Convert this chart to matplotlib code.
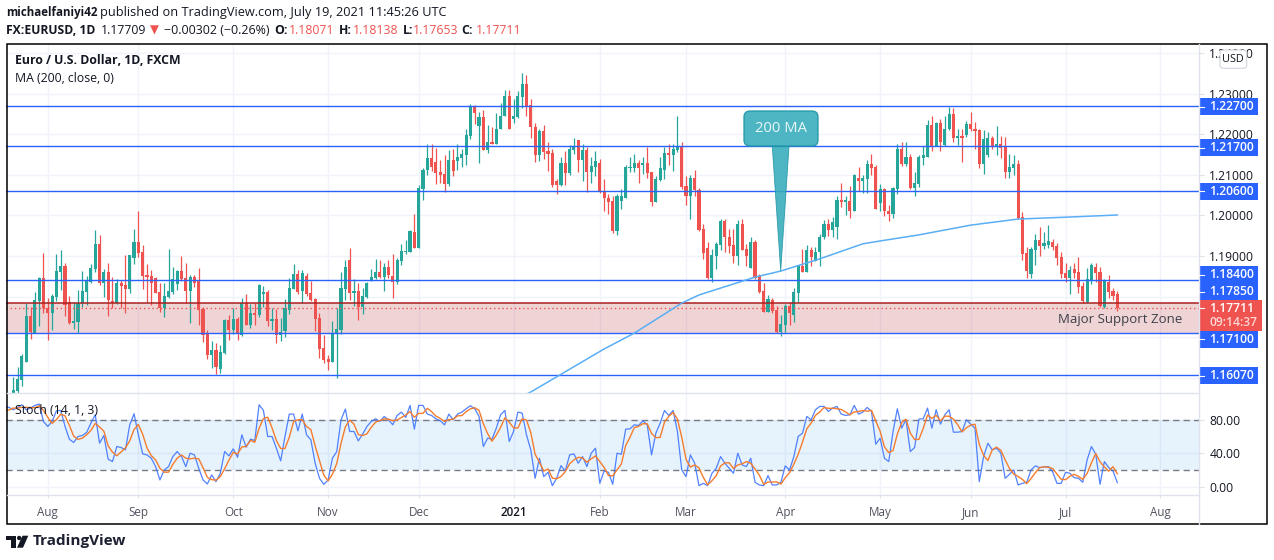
import matplotlib
matplotlib.use('Agg')
import matplotlib.pyplot as plt
import numpy as np
from matplotlib.patches import Rectangle, Polygon, FancyBboxPatch, Circle

plt.rcParams['font.family'] = ['Open Sans', 'DejaVu Sans']

# daily candles
opens = [1.1563,1.1567,1.1595,1.1639,1.1752,1.1711,1.1789,1.1846,1.1772,1.1760,
 1.1799,1.1861,1.1875,1.1787,1.1735,1.1737,1.1783,1.1811,1.1836,1.1868,
 1.1930,1.1834,1.1861,1.1789,1.1783,1.1834,1.1829,1.1819,1.1895,1.1934,
 1.1910,1.1853,1.1851,1.1846,1.1811,1.1772,1.1799,1.1811,1.1831,1.1863,
 1.1846,1.1814,1.1848,1.1841,1.1769,1.1710,1.1656,1.1668,1.1622,1.1660,
 1.1742,1.1718,1.1745,1.1705,1.1783,1.1730,1.1760,1.1755,1.1806,1.1811,
 1.1740,1.1745,1.1705,1.1715,1.1767,1.1819,1.1856,1.1814,1.1851,1.1809,
 1.1794,1.1747,1.1673,1.1646,1.1639,1.1711,1.1718,1.1819,1.1890,1.1809,
 1.1814,1.1774,1.1799,1.1838,1.1846,1.1861,1.1848,1.1873,1.1851,1.1836,
 1.1888,1.1910,1.1910,1.1959,1.1920,1.2065,1.2111,1.2141,1.2131,1.2106,
 1.2101,1.2077,1.2136,1.2133,1.2141,1.2148,1.2195,1.2266,1.2219,1.2242,
 1.2160,1.2182,1.2177,1.2212,1.2244,1.2293,1.2237,1.2242,1.2291,1.2323,
 1.2271,1.2217,1.2148,1.2207,1.2158,1.2153,1.2084,1.2074,1.2128,1.2104,
 1.2160,1.2185,1.2136,1.2160,1.2106,1.2118,1.2128,1.2059,1.2044,1.2035,
 1.1961,1.2035,1.2044,1.2116,1.2116,1.2128,1.2123,1.2128,1.2106,1.2032,
 1.2086,1.2111,1.2153,1.2148,1.2160,1.2168,1.2072,1.2047,1.2091,1.2062,
 1.1966,1.1919,1.1845,1.1899,1.1926,1.1985,1.1946,1.1926,1.1899,1.1978,
 1.1916,1.1870,1.1934,1.1850,1.1813,1.1761,1.1791,1.1766,1.1712,1.1729,
 1.1776,1.1754,1.1808,1.1875,1.1860,1.1914,1.1887,1.1909,1.1946,1.1978,
 1.1963,1.1971,1.2037,1.2032,1.2035,1.2012,1.2091,1.2084,1.2089,1.2126,
 1.2118,1.2030,1.2064,1.2012,1.2003,1.2064,1.2163,1.2126,1.2145,1.2067,
 1.2077,1.2141,1.2145,1.2222,1.2170,1.2227,1.2173,1.2212,1.2249,1.2190,
 1.2195,1.2197,1.2224,1.2214,1.2210,1.2126,1.2148,1.2190,1.2170,1.2177,
 1.2168,1.2106,1.2116,1.2126,1.1995,1.1907,1.1855,1.1914,1.1939,1.1924,
 1.1926,1.1934,1.1924,1.1897,1.1857,1.1847,1.1867,1.1860,1.1825,1.1786,
 1.1840,1.1872,1.1860,1.1774,1.1835,1.1813,1.1807]
highs = [1.1603,1.1627,1.1659,1.1783,1.1775,1.1812,1.1849,1.1907,1.1797,1.1806,
 1.1905,1.1915,1.1883,1.1801,1.1787,1.1816,1.1863,1.1851,1.1880,1.1964,
 1.1952,1.1868,1.1883,1.1848,1.1843,1.1841,1.1902,1.1903,1.1966,1.2011,
 1.1927,1.1880,1.1866,1.1848,1.1834,1.1834,1.1917,1.1873,1.1866,1.1900,
 1.1883,1.1853,1.1853,1.1870,1.1774,1.1718,1.1691,1.1686,1.1681,1.1745,
 1.1755,1.1772,1.1750,1.1797,1.1806,1.1782,1.1784,1.1831,1.1826,1.1816,
 1.1772,1.1769,1.1747,1.1794,1.1846,1.1880,1.1866,1.1866,1.1858,1.1838,
 1.1797,1.1760,1.1705,1.1656,1.1740,1.1772,1.1861,1.1890,1.1920,1.1843,
 1.1834,1.1821,1.1836,1.1868,1.1893,1.1890,1.1883,1.1890,1.1905,1.1895,
 1.1930,1.1939,1.1964,1.2003,1.2075,1.2117,1.2176,1.2177,1.2167,1.2136,
 1.2148,1.2160,1.2163,1.2177,1.2163,1.2212,1.2274,1.2271,1.2254,1.2259,
 1.2222,1.2217,1.2251,1.2276,1.2310,1.2310,1.2286,1.2306,1.2350,1.2345,
 1.2286,1.2227,1.2212,1.2222,1.2180,1.2163,1.2089,1.2145,1.2158,1.2173,
 1.2190,1.2185,1.2175,1.2168,1.2143,1.2158,1.2138,1.2089,1.2052,1.2047,
 1.2052,1.2064,1.2123,1.2145,1.2150,1.2136,1.2145,1.2169,1.2106,1.2096,
 1.2145,1.2168,1.2177,1.2175,1.2244,1.2182,1.2096,1.2099,1.2113,1.2067,
 1.1978,1.1934,1.1916,1.1934,1.1990,1.1990,1.1966,1.1966,1.1988,1.1990,
 1.1929,1.1948,1.1939,1.1855,1.1833,1.1803,1.1796,1.1776,1.1754,1.1781,
 1.1786,1.1820,1.1879,1.1916,1.1926,1.1921,1.1921,1.1953,1.1988,1.1990,
 1.1995,1.2049,1.2081,1.2047,1.2072,1.2101,1.2118,1.2099,1.2136,1.2150,
 1.2123,1.2077,1.2067,1.2025,1.2069,1.2177,1.2180,1.2182,1.2150,1.2106,
 1.2148,1.2170,1.2234,1.2246,1.2229,1.2237,1.2244,1.2266,1.2264,1.2214,
 1.2212,1.2232,1.2254,1.2229,1.2214,1.2210,1.2205,1.2195,1.2219,1.2195,
 1.2192,1.2150,1.2148,1.2136,1.2008,1.1921,1.1921,1.1953,1.1971,1.1958,
 1.1976,1.1941,1.1931,1.1909,1.1882,1.1875,1.1882,1.1897,1.1835,1.1870,
 1.1882,1.1882,1.1872,1.1843,1.1852,1.1820,1.1814]
lows = [1.1563,1.1563,1.1580,1.1639,1.1696,1.1710,1.1728,1.1760,1.1693,1.1718,
 1.1789,1.1816,1.1752,1.1733,1.1720,1.1710,1.1774,1.1779,1.1833,1.1861,
 1.1829,1.1799,1.1752,1.1772,1.1782,1.1772,1.1760,1.1809,1.1880,1.1898,
 1.1819,1.1787,1.1779,1.1809,1.1762,1.1750,1.1797,1.1806,1.1816,1.1838,
 1.1784,1.1735,1.1824,1.1730,1.1688,1.1646,1.1624,1.1609,1.1612,1.1659,
 1.1693,1.1708,1.1693,1.1703,1.1730,1.1723,1.1730,1.1750,1.1774,1.1728,
 1.1718,1.1686,1.1691,1.1701,1.1757,1.1819,1.1806,1.1784,1.1801,1.1789,
 1.1715,1.1649,1.1636,1.1619,1.1639,1.1600,1.1708,1.1792,1.1792,1.1777,
 1.1742,1.1757,1.1797,1.1838,1.1843,1.1846,1.1814,1.1846,1.1797,1.1831,
 1.1878,1.1905,1.1910,1.1920,1.1920,1.2038,1.2099,1.2109,1.2077,1.2079,
 1.2057,1.2072,1.2097,1.2113,1.2118,1.2123,1.2187,1.2224,1.2128,1.2160,
 1.2153,1.2175,1.2177,1.2212,1.2244,1.2212,1.2227,1.2239,1.2264,1.2244,
 1.2190,1.2131,1.2133,1.2138,1.2109,1.2069,1.2052,1.2072,1.2074,1.2099,
 1.2150,1.2106,1.2084,1.2057,1.2079,1.2096,1.2054,1.2010,1.2003,1.1956,
 1.1951,1.2015,1.2042,1.2106,1.2106,1.2079,1.2101,1.2091,1.2022,1.2032,
 1.2084,1.2089,1.2123,1.2109,1.2155,1.2064,1.2025,1.1990,1.2048,1.1961,
 1.1892,1.1843,1.1835,1.1867,1.1914,1.1909,1.1907,1.1882,1.1877,1.1914,
 1.1875,1.1870,1.1843,1.1808,1.1761,1.1761,1.1759,1.1710,1.1702,1.1710,
 1.1729,1.1737,1.1786,1.1860,1.1860,1.1875,1.1887,1.1875,1.1941,1.1949,
 1.1948,1.1941,1.2020,1.2000,1.1993,1.2012,1.2059,1.2054,1.2054,1.2099,
 1.2015,1.2012,1.1998,1.1985,1.1993,1.2052,1.2121,1.2121,1.2064,1.2049,
 1.2069,1.2123,1.2145,1.2158,1.2170,1.2158,1.2170,1.2210,1.2180,1.2173,
 1.2131,1.2192,1.2207,1.2163,1.2116,1.2101,1.2143,1.2163,1.2148,1.2141,
 1.2091,1.2091,1.2099,1.1990,1.1889,1.1845,1.1847,1.1879,1.1899,1.1916,
 1.1919,1.1914,1.1879,1.1845,1.1835,1.1806,1.1847,1.1808,1.1783,1.1783,
 1.1830,1.1835,1.1774,1.1771,1.1796,1.1791,1.1765]
closes = [1.1570,1.1597,1.1654,1.1752,1.1713,1.1792,1.1846,1.1772,1.1760,1.1801,
 1.1863,1.1875,1.1779,1.1735,1.1740,1.1783,1.1814,1.1841,1.1870,1.1930,
 1.1834,1.1861,1.1792,1.1783,1.1834,1.1826,1.1819,1.1902,1.1934,1.1907,
 1.1851,1.1848,1.1834,1.1809,1.1772,1.1801,1.1814,1.1843,1.1863,1.1843,
 1.1814,1.1848,1.1834,1.1767,1.1705,1.1656,1.1668,1.1627,1.1664,1.1742,
 1.1718,1.1745,1.1708,1.1783,1.1730,1.1760,1.1755,1.1829,1.1811,1.1740,
 1.1745,1.1705,1.1713,1.1772,1.1821,1.1856,1.1811,1.1858,1.1806,1.1792,
 1.1745,1.1671,1.1644,1.1639,1.1711,1.1720,1.1821,1.1873,1.1809,1.1814,
 1.1774,1.1801,1.1834,1.1848,1.1861,1.1848,1.1873,1.1853,1.1836,1.1890,
 1.1912,1.1912,1.1962,1.1920,1.2067,1.2112,1.2141,1.2118,1.2104,1.2099,
 1.2077,1.2136,1.2109,1.2143,1.2150,1.2197,1.2266,1.2251,1.2242,1.2160,
 1.2182,1.2177,1.2214,1.2246,1.2293,1.2214,1.2244,1.2293,1.2323,1.2269,
 1.2217,1.2148,1.2207,1.2155,1.2150,1.2074,1.2074,1.2128,1.2104,1.2163,
 1.2168,1.2136,1.2160,1.2106,1.2121,1.2133,1.2057,1.2042,1.2032,1.1961,
 1.2049,1.2047,1.2118,1.2118,1.2128,1.2116,1.2128,1.2104,1.2032,1.2089,
 1.2116,1.2153,1.2148,1.2163,1.2168,1.2069,1.2047,1.2091,1.2062,1.1963,
 1.1907,1.1845,1.1902,1.1929,1.1985,1.1948,1.1924,1.1899,1.1978,1.1914,
 1.1899,1.1934,1.1847,1.1811,1.1761,1.1793,1.1764,1.1712,1.1732,1.1776,
 1.1759,1.1811,1.1877,1.1860,1.1914,1.1897,1.1911,1.1948,1.1978,1.1963,
 1.1983,1.2037,1.2032,1.2037,1.2012,1.2099,1.2084,1.2091,1.2126,1.2116,
 1.2015,1.2064,1.2010,1.2003,1.2067,1.2163,1.2126,1.2145,1.2067,1.2079,
 1.2145,1.2148,1.2222,1.2170,1.2227,1.2180,1.2214,1.2249,1.2190,1.2195,
 1.2190,1.2224,1.2212,1.2207,1.2126,1.2187,1.2190,1.2168,1.2177,1.2165,
 1.2106,1.2118,1.2126,1.1993,1.1904,1.1862,1.1916,1.1939,1.1924,1.1931,
 1.1936,1.1921,1.1894,1.1855,1.1847,1.1865,1.1857,1.1823,1.1788,1.1843,
 1.1877,1.1857,1.1776,1.1838,1.1811,1.1801,1.1771]

# 200 MA, only a few points
ma_bars = [118,120,137,144,155,159,172,178,187,197,201,210,222,233,245,256]
ma_vals = [1.1555,1.1565,1.1671,1.1710,1.1784,1.1804,1.1848,1.1863,1.1893,1.1930,1.1937,1.1952,1.1976,1.1991,1.1996,1.2001]

# Stoch starts two bars before the first visible candle
stoch_k = [95.9,95.1,92.3,95.1,98.3,92.3,94.3,97.5,99.1,78.3,72.3,78.3,91.1,91.5,72.3,57.1,53.1,60.3,61.5,65.1,
 76.3,86.3,52.3,61.5,33.1,30.3,48.3,47.1,44.3,74.3,87.5,62.3,39.5,38.3,34.3,24.3,8.3,20.3,24.3,36.3,
 42.3,36.3,24.3,40.3,38.3,22.3,8.3,3.5,14.3,6.3,16.3,42.3,37.1,45.5,35.5,62.3,47.5,57.1,55.5,98.3,
 91.5,60.3,60.3,46.3,31.1,60.3,87.1,87.1,67.1,87.1,62.3,56.3,28.3,10.3,3.1,8.3,34.3,42.3,80.3,93.1,
 66.3,66.3,55.1,63.1,72.3,78.3,81.5,78.3,84.3,80.3,74.3,85.5,89.5,83.1,97.5,69.1,97.5,97.5,87.1,85.5,
 81.5,79.1,74.3,87.1,80.3,87.1,89.5,93.5,97.1,93.5,84.3,48.3,58.3,57.1,70.3,86.3,91.5,54.3,66.3,89.5,
 88.3,62.3,44.3,10.3,34.3,12.3,17.5,1.5,10.3,25.5,19.1,38.3,39.5,28.3,36.3,24.3,40.3,46.3,4.3,19.1,
 17.5,3.1,40.3,39.1,69.1,69.5,74.3,73.5,79.1,74.3,38.3,64.3,76.3,91.5,85.5,91.5,66.3,20.3,12.3,38.3,
 28.3,1.5,4.3,1.5,16.3,22.3,36.3,28.3,22.3,16.3,40.3,26.3,24.3,34.3,5.5,2.3,1.5,13.5,2.3,2.3,
 5.5,25.1,20.3,36.3,60.3,64.3,84.3,80.3,92.3,96.3,96.3,90.3,94.3,96.3,87.1,85.5,86.3,97.5,87.1,89.5,
 95.1,90.3,51.1,58.3,34.3,30.3,66.3,93.5,70.3,80.3,42.3,47.1,81.1,81.5,94.3,70.3,92.3,75.1,86.3,92.3,
 65.5,65.5,66.3,80.3,75.1,70.3,6.3,36.3,52.3,44.3,46.3,40.3,10.3,15.1,20.3,2.3,4.3,5.5,20.3,25.1,
 23.1,23.9,24.3,18.3,4.3,4.3,17.5,16.3,11.1,10.3,5.5,32.3,48.3,39.1,3.1,30.3,23.1,19.1,5.1]
stoch_d = [91.5,92.0,94.4,94.2,95.2,95.2,95.0,94.7,97.0,91.6,83.2,76.0,80.6,87.0,85.0,73.6,60.8,56.8,58.3,62.3,
 67.6,76.0,71.6,66.7,48.9,41.6,37.2,41.9,46.6,55.2,68.7,74.7,63.0,46.7,37.4,32.3,22.3,17.6,17.6,27.0,
 34.3,38.3,34.3,33.6,34.3,33.6,22.9,11.4,8.7,8.0,12.3,21.6,32.0,41.3,39.4,47.8,48.4,55.6,53.4,70.3,
 81.8,83.4,70.7,55.6,45.9,45.9,59.5,78.2,80.4,80.4,72.2,68.6,49.0,31.6,14.0,7.2,15.2,28.0,52.3,71.9,
 79.9,75.0,62.6,61.5,63.5,71.3,77.4,79.4,81.4,81.0,79.3,80.0,83.1,86.1,90.1,83.3,88.0,88.0,94.0,90.0,
 84.7,82.0,78.3,80.5,81.0,85.0,85.3,90.0,93.4,94.7,91.6,75.4,63.7,54.6,62.0,71.3,82.7,77.4,70.7,70.4,
 81.4,80.0,65.0,39.0,29.6,18.9,21.4,10.4,9.8,12.4,18.3,27.6,32.3,35.4,34.7,29.6,33.6,37.0,30.3,23.3,
 13.6,13.2,20.3,27.5,49.5,59.3,71.0,72.5,75.6,75.6,63.9,59.0,59.3,77.4,84.4,89.2,81.0,59.4,33.0,23.7,
 26.3,22.7,11.4,2.5,7.4,13.4,25.0,28.7,28.9,22.0,26.3,27.6,30.3,28.3,21.4,14.0,3.0,5.8,5.8,6.0,
 3.4,11.0,17.0,27.3,39.0,53.6,69.6,76.3,85.6,89.6,95.0,94.0,94.0,93.6,92.6,89.6,86.3,89.8,90.3,91.4,
 90.6,91.6,78.8,66.6,47.9,41.0,43.6,63.4,77.0,81.0,64.4,56.6,56.9,70.0,86.0,82.0,85.7,79.0,84.6,84.6,
 81.0,74.4,65.8,70.7,73.9,75.0,50.7,37.6,31.6,44.3,47.6,43.7,32.3,22.0,15.2,12.6,8.9,4.0,10.0,17.0,
 23.0,24.0,23.6,22.0,15.6,9.0,8.7,12.7,15.0,12.6,9.0,16.0,28.7,40.0,30.0,24.0,18.8,24.2,15.7]

month_bars = [8,29,51,73,94,116,136,156,179,201,222,244,266]
month_labels = ['Aug','Sep','Oct','Nov','Dec','2021','Feb','Mar','Apr','May','Jun','Jul','Aug']
price_ticks = [1.16,1.17,1.18,1.19,1.20,1.21,1.22,1.23,1.24]
hidden_ticks = [1.16,1.17,1.18]  # sit fully behind the price labels
stoch_ticks = [0,40,80]
level_lines = [1.227,1.217,1.206,1.184,1.171,1.1607]
zone_top = 1.1785
zone_bottom = 1.171
last_price = 1.17711

green = '#26a69a'
red = '#ef5350'
blue = '#2962ff'
grid = '#f0f3fa'
axis_col = '#e0e3eb'
text_col = '#131722'

W, H = 1274, 560
left, right = 6.5, 1199.3
main_top, main_bottom = 43.5, 393.3
stoch_bottom = 495.0
frame_bottom = 523.5
price_min, price_max = 1.15618, 1.24234

def box(x0, y0, x1, y1):
    return [x0/W, 1-y1/H, (x1-x0)/W, (y1-y0)/H]

def price_px(p):
    return main_top + (price_max-p)/(price_max-price_min)*(main_bottom-main_top)

fig = plt.figure(figsize=(W/100, H/100), dpi=100, facecolor='white')
ax = fig.add_axes(box(left, main_top, right, main_bottom))
ax2 = fig.add_axes(box(left, main_bottom, right, stoch_bottom))
xlim = ((left-13.3)/4.3125, (right-13.3)/4.3125)

# main pane
o, h, l, c = np.array(opens), np.array(highs), np.array(lows), np.array(closes)
bars = np.arange(len(o))
cols = [green if c[i] >= o[i] else red for i in bars]
ax.vlines(bars, l, h, colors=cols, linewidth=0.9, zorder=3)
ax.bar(bars, np.abs(c-o), bottom=np.minimum(o, c), width=0.72, color=cols, linewidth=0, zorder=3)
ax.axhspan(zone_bottom, zone_top, color='#b22833', alpha=0.2, linewidth=0, zorder=1)
ax.axhline(zone_top, color='#a8201f', linewidth=1.1, zorder=4)
for lvl in level_lines:
    ax.axhline(lvl, color=blue, linewidth=1.0, zorder=4)
ax.axhline(last_price, color=red, linewidth=1, linestyle=(0, (1, 2)), zorder=4)
ax.plot(ma_bars, ma_vals, color='#5aaef5', linewidth=1.1, zorder=5)

ax.set_xlim(xlim)
ax.set_ylim(price_min, price_max)
ax.set_xticks(month_bars)
ax.tick_params(axis='x', length=0, labelbottom=False)
ax.yaxis.tick_right()
ax.set_yticks(price_ticks)
ax.set_yticklabels(['' if t in hidden_ticks else '%.5f' % t for t in price_ticks])
ax.tick_params(axis='y', length=3.6, width=0.8, color=axis_col, pad=3.6, labelsize=8.7, labelcolor=text_col)
ax.grid(True, color=grid, linewidth=1)
ax.set_axisbelow(True)

# stochastic pane
sx = np.arange(-2, len(o))
ax2.axhspan(20, 80, color='#2196f3', alpha=0.11, linewidth=0, zorder=1)
ax2.axhline(80, color='#787b86', linewidth=1, linestyle=(0, (4.5, 3)), zorder=2)
ax2.axhline(20, color='#787b86', linewidth=1, linestyle=(0, (4.5, 3)), zorder=2)
ax2.plot(sx, stoch_k, color='#3f74ff', linewidth=0.9, alpha=0.9, zorder=3)
ax2.plot(sx, stoch_d, color='#f57c2c', linewidth=1.0, zorder=4)
ax2.set_xlim(xlim)
ax2.set_ylim(-9.7, 112)
ax2.set_xticks(month_bars)
ax2.set_xticklabels(month_labels)
ax2.yaxis.tick_right()
ax2.set_yticks(stoch_ticks)
ax2.set_yticklabels(['%.2f' % t for t in stoch_ticks])
ax2.tick_params(axis='y', length=3.6, width=0.8, color=axis_col, pad=3.6, labelsize=8.7, labelcolor=text_col)
ax2.tick_params(axis='x', length=2.2, width=0.8, color=axis_col, pad=6, labelsize=8.4, labelcolor='#50535e')
ax2.get_xticklabels()[5].set_color(text_col)
ax2.get_xticklabels()[5].set_fontweight('semibold')
ax2.grid(True, color=grid, linewidth=1)
ax2.set_axisbelow(True)

for a in (ax, ax2):
    for s in a.spines.values():
        s.set_visible(False)

# everything around the panes, in pixels
ui = fig.add_axes([0, 0, 1, 1], zorder=10)
ui.set_xlim(0, W)
ui.set_ylim(H, 0)
ui.axis('off')
ui.patch.set_alpha(0)

ui.plot([left, right], [main_bottom, main_bottom], color=axis_col, lw=1)
ui.plot([left, right], [stoch_bottom, stoch_bottom], color=axis_col, lw=1)
ui.plot([right, right], [main_top, frame_bottom], color=axis_col, lw=1)
ui.add_patch(Rectangle((left, main_top), 1267-left, frame_bottom-main_top, fill=False, edgecolor='black', linewidth=1.1))

def put(x, y, s, size=8.8, color=text_col, weight='normal', ha='left'):
    return ui.text(x, y, s, fontsize=size, color=color, fontweight=weight, ha=ha, va='center')

# header
put(6.5, 12.5, 'michaelfaniyi42', size=8.3, weight='bold')
put(100.5, 12.5, 'published on TradingView.com, July 19, 2021 11:45:26 UTC', size=9.15)
put(6.5, 30, 'FX:EURUSD, 1D', size=8.7, weight='bold')
put(101, 30, '1.17709')
put(150, 30, '▼', size=8.4, color=red)
put(164.5, 30, '−0.00302 (−0.26%)', size=8.95)
put(274, 30, 'O:', weight='bold')
put(288.5, 30, '1.18071', color=red)
put(338.5, 30, 'H:', weight='bold')
put(352.5, 30, '1.18138', color=red)
put(402.5, 30, 'L:', weight='bold')
put(413, 30, '1.17653', color=red)
put(461, 30, 'C:', weight='bold')
put(476, 30, '1.17711', color=red)

# pane legends
put(15.3, 60.5, 'Euro / U.S. Dollar, 1D, FXCM', weight='bold')
put(15.3, 78, 'MA (200, close, 0)')
put(15.3, 411, 'Stoch (14, 1, 3)')
put(1058.3, 319, 'Major Support Zone', size=9.5, color='#3d3f49')

# price labels on the right scale
label_rows = [('1.22700', 106.7), ('1.21700', 147.5), ('1.20600', 191.3), ('1.18400', 274.7),
              ('1.17850', 291.7), ('1.17100', 339.3), ('1.16070', 375.7)]
for txt, yc in label_rows:
    ui.add_patch(Rectangle((right, yc-8.4), 58.5, 16.8, color=blue, linewidth=0))
    ui.plot([right, right+5], [yc, yc], color='white', lw=0.8)
    put(1209.3, yc, txt, size=8.7, color='white', weight='semibold')
ui.add_patch(Rectangle((right, 300), 62.4, 30.7, color=red, linewidth=0))
ui.plot([right, right+5], [price_px(last_price), price_px(last_price)], color='white', lw=0.8)
put(1209.3, 308.7, '1.17711', size=8.7, color='white', weight='semibold')
put(1209.3, 322.7, '09:14:37', size=8.7, color='#ffd6d5', weight='semibold')

ui.add_patch(FancyBboxPatch((1222, 52), 22.7, 14.3, boxstyle='round,pad=2,rounding_size=3',
                            facecolor='white', edgecolor='#d1d4dc', linewidth=0.8))
put(1233.3, 59, 'USD', size=7.8, ha='center')

# 200 MA callout
ui.add_patch(FancyBboxPatch((747, 114), 68, 29, boxstyle='round,pad=3,rounding_size=6',
                            facecolor='#35acbb', edgecolor='#1f95a6', linewidth=1, alpha=0.88))
ui.add_patch(Polygon([(772.3, 146.5), (789, 146.5), (780.7, 271)], closed=True,
                     facecolor='#35acbb', edgecolor='#1f95a6', linewidth=0.6, alpha=0.88))
put(781, 128.5, '200 MA', size=10.6, color='#e8f7f8', ha='center')

# TradingView mark
ui.add_patch(Polygon([(6, 535.7), (16, 535.7), (16, 547.7), (11, 547.7), (11, 540), (6, 540)], closed=True, color='#131722', linewidth=0))
ui.add_patch(Circle((19.2, 538), 2.2, color='#131722', linewidth=0))
ui.add_patch(Polygon([(22.5, 535.7), (28.3, 535.7), (23, 547.7), (17, 547.7)], closed=True, color='#131722', linewidth=0))
put(33, 541.5, 'TradingView', size=11, weight='bold', color='#1c2030')

fig.savefig('out.png', dpi=100, facecolor='white')
